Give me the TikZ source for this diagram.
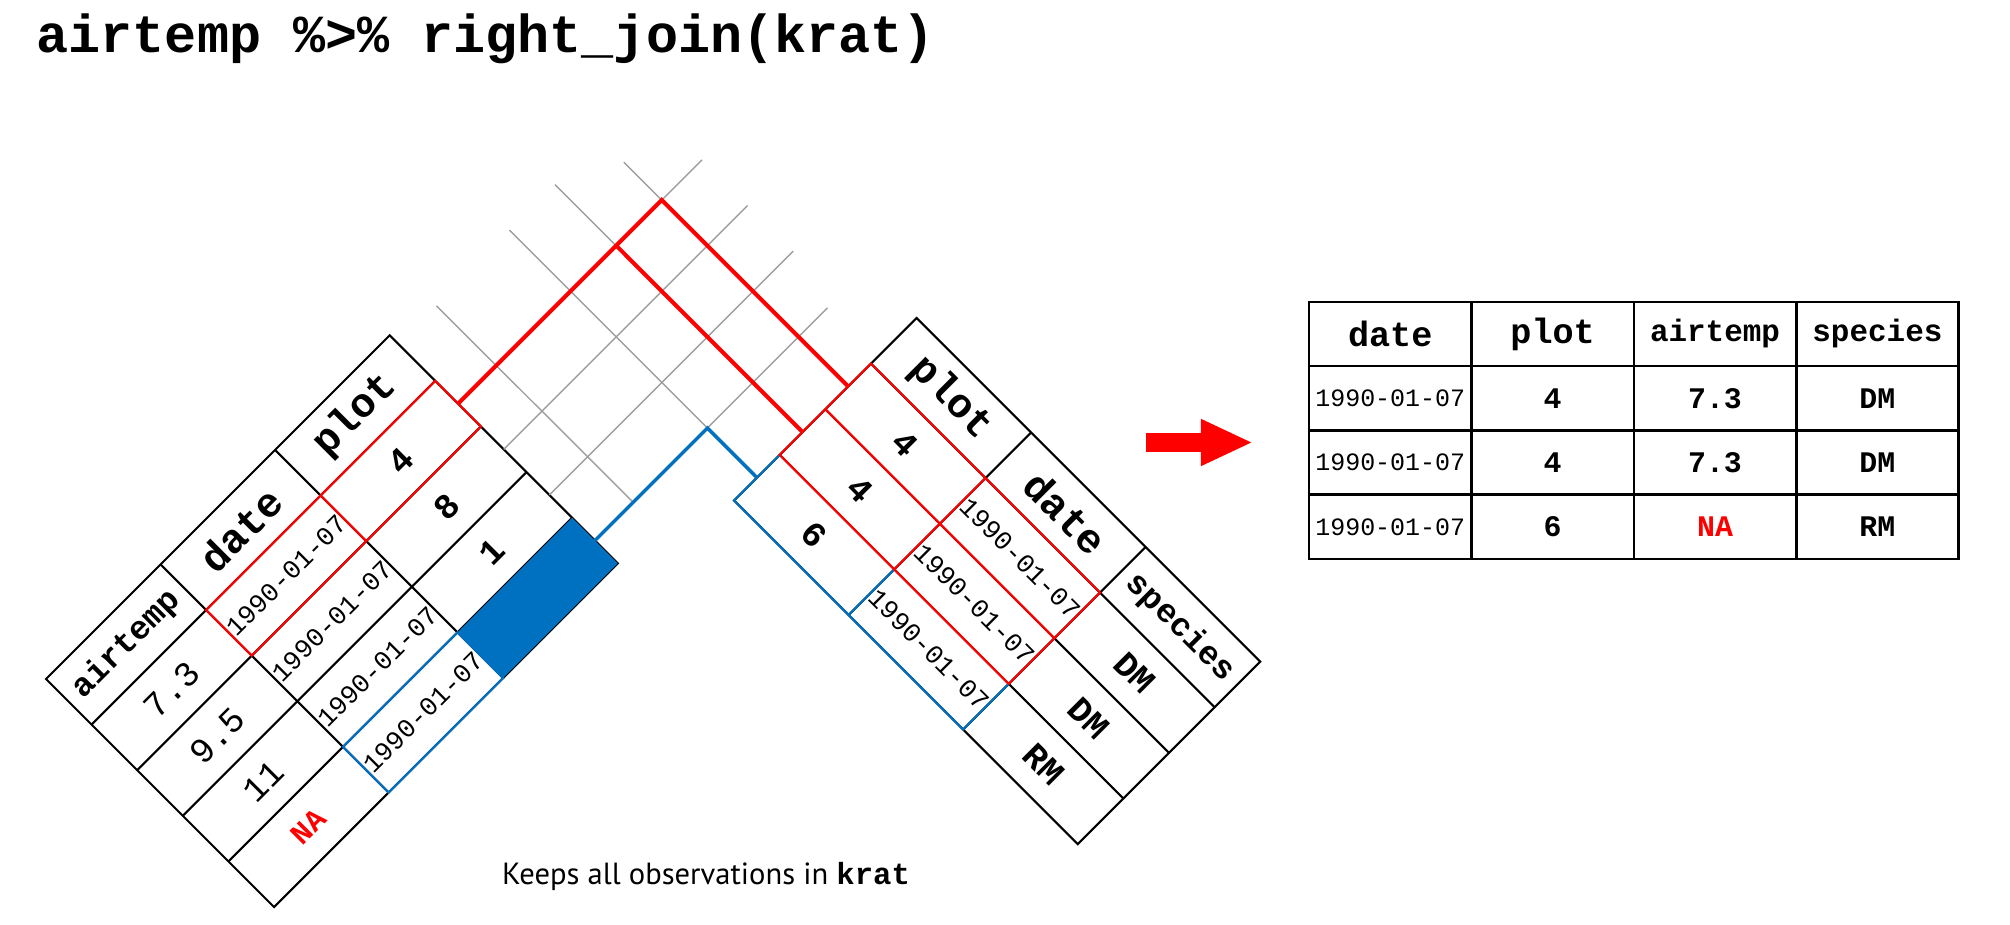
\documentclass[tikz,border=0pt]{standalone}
\usepackage{fontspec}
\setmainfont{PT Sans}
\setmonofont{Liberation Mono}
\usepackage{xcolor}
\usepackage{tikz}
\usetikzlibrary{arrows.meta,positioning}

\definecolor{keyred}{RGB}{255,0,0}
\definecolor{keyblue}{RGB}{0,112,192}
\definecolor{gridgray}{RGB}{158,158,158}

\tikzset{
  tb_frame/.style={draw=black, line width=0.6pt},
  tb_key/.style={draw=keyred, line width=0.6pt},
  tb_new/.style={draw=keyblue, line width=0.6pt},
  jn_grid/.style={draw=gridgray, line width=0.4pt},
  jn_red/.style={draw=keyred, line width=1.15pt},
  jn_blue/.style={draw=keyblue, line width=1.0pt},
  tb_head/.style={transform shape, inner sep=0pt, font=\ttfamily\bfseries\fontsize{11.7}{14}\selectfont},
  tb_hsm/.style={transform shape, inner sep=0pt, font=\ttfamily\bfseries\fontsize{9.4}{11}\selectfont},
  tb_date/.style={transform shape, inner sep=0pt, font=\ttfamily\fontsize{7.5}{9}\selectfont},
  tb_val/.style={transform shape, inner sep=0pt, font=\ttfamily\fontsize{10}{12}\selectfont},
  tb_valb/.style={tb_val, font=\ttfamily\bfseries\fontsize{10}{12}\selectfont},
  tb_na/.style={tb_val, text=keyred, font=\ttfamily\bfseries\fontsize{8.5}{10}\selectfont},
  out_cell/.style={draw, line width=0.75pt, outer sep=0pt, inner sep=0pt,
    minimum width=1.623cm, minimum height=0.6425cm,
    font=\ttfamily\bfseries\fontsize{8.5}{10}\selectfont},
  out_head/.style={out_cell, font=\ttfamily\bfseries\fontsize{10}{12}\selectfont},
  out_hsm/.style={out_cell, font=\ttfamily\bfseries\fontsize{8.8}{10}\selectfont},
  out_date/.style={out_cell, font=\ttfamily\fontsize{7.1}{9}\selectfont},
  res_arr/.style={draw=keyred, line width=0.19cm, -{Triangle[length=0.52cm, width=0.43cm]}},
}

\begin{document}
\begin{tikzpicture}[x=0.01cm, y=0.01cm]
\useasboundingbox (0,0) rectangle (2010,924);

% Title
\node[anchor=base west, inner sep=0pt, font=\ttfamily\bfseries\fontsize{15.2}{18}\selectfont]
  (title) at (36,871) {airtemp \%>\% right\_join(krat)};

% airtemp table, turned up to the right
\begin{scope}[shift={(46,245)}, rotate=45]
  \draw[tb_frame] (0,0) rectangle (486,-322.5);
  \foreach \y in {-64.5,-129,-193.5,-258} \draw[tb_frame] (0,\y) -- (486,\y);
  \foreach \x in {162,324} \draw[tb_frame] (\x,0) -- (\x,-322.5);
  \draw[tb_key] (162,-64.5) rectangle (486,-129);
  \draw[tb_key] (324,-64.5) -- (324,-129);
  \draw[tb_new] (162,-258) rectangle (324,-322.5);
  \fill[keyblue] (324,-258) rectangle (486,-322.5);

  \node[tb_hsm]  (ah1) at (81,-32.25)  {airtemp};
  \node[tb_head] (ah2) at (243,-32.25) {date};
  \node[tb_head] (ah3) at (405,-32.25) {plot};
  \node[tb_val]  (a11) at (81,-96.75)  {7.3};
  \node[tb_date] (a12) at (243,-96.75) {1990-01-07};
  \node[tb_valb] (a13) at (405,-96.75) {4};
  \node[tb_val]  (a21) at (81,-161.25)  {9.5};
  \node[tb_date] (a22) at (243,-161.25) {1990-01-07};
  \node[tb_valb] (a23) at (405,-161.25) {8};
  \node[tb_val]  (a31) at (81,-225.75)  {11};
  \node[tb_date] (a32) at (243,-225.75) {1990-01-07};
  \node[tb_valb] (a33) at (405,-225.75) {1};
  \node[tb_na]   (a41) at (81,-290.25)  {NA};
  \node[tb_date] (a42) at (243,-290.25) {1990-01-07};

  % row ends on the plot side
  \coordinate (lr1) at (486,-96.75);
  \coordinate (lr2) at (486,-161.25);
  \coordinate (lr3) at (486,-225.75);
  \coordinate (lr4) at (486,-290.25);
  \coordinate (le1) at (831,-96.75);
  \coordinate (le2) at (831,-161.25);
  \coordinate (le3) at (831,-225.75);
  \coordinate (le4) at (815,-290.25);
\end{scope}

% krat table, turned down to the right
\begin{scope}[shift={(916.5,606)}, rotate=-45]
  \draw[tb_frame] (0,0) rectangle (486,-258);
  \foreach \y in {-64.5,-129,-193.5} \draw[tb_frame] (0,\y) -- (486,\y);
  \foreach \x in {162,324} \draw[tb_frame] (\x,0) -- (\x,-258);
  \draw[tb_new] (0,-193.5) -- (0,-258) -- (324,-258) -- (324,-193.5);
  \draw[tb_new] (162,-193.5) -- (162,-258);
  \draw[tb_key] (0,-64.5) rectangle (324,-193.5);
  \draw[tb_key] (0,-129) -- (324,-129);
  \draw[tb_key] (162,-64.5) -- (162,-193.5);

  \node[tb_head] (kh1) at (81,-32.25)  {plot};
  \node[tb_head] (kh2) at (243,-32.25) {date};
  \node[tb_hsm]  (kh3) at (405,-32.25) {species};
  \node[tb_valb] (k11) at (81,-96.75)  {4};
  \node[tb_date] (k12) at (243,-96.75) {1990-01-07};
  \node[tb_valb] (k13) at (405,-96.75) {DM};
  \node[tb_valb] (k21) at (81,-161.25)  {4};
  \node[tb_date] (k22) at (243,-161.25) {1990-01-07};
  \node[tb_valb] (k23) at (405,-161.25) {DM};
  \node[tb_valb] (k31) at (81,-225.75)  {6};
  \node[tb_date] (k32) at (243,-225.75) {1990-01-07};
  \node[tb_valb] (k33) at (405,-225.75) {RM};

  % row ends on the plot side
  \coordinate (rr1) at (0,-96.75);
  \coordinate (rr2) at (0,-161.25);
  \coordinate (rr3) at (0,-225.75);
  \coordinate (re1) at (-317,-96.75);
  \coordinate (re2) at (-350,-161.25);
  \coordinate (re3) at (-350,-225.75);
  \coordinate (re4) at (-348,-330.8);
  \coordinate (rx4) at (0,-330.8);
\end{scope}

% Join grid
\coordinate (pk1) at (intersection of lr1--le1 and rr1--re1);
\coordinate (pk2) at (intersection of lr1--le1 and rr2--re2);
\coordinate (pk3) at (intersection of lr4--le4 and rr3--re3);
\coordinate (pk4) at (intersection of lr4--le4 and re4--rx4);
\foreach \i in {1,...,4} \draw[jn_grid] (lr\i) -- (le\i);
\foreach \i in {1,2,3} \draw[jn_grid] (re\i) -- (rr\i);
\draw[jn_grid] (re4) -- (pk4);

% Matches
\draw[jn_red]  (lr1) -- (pk1) -- (rr1);
\draw[jn_red]  (pk2) -- (rr2);
\draw[jn_blue] (lr4) -- (pk3) -- (rr3);

% Result
\coordinate (arrS) at (1146,481.5);
\coordinate (arrE) at (1253,481.5);
\draw[res_arr] (arrS) -- (arrE);

\node[out_head] (o11) at (1390.2,590) {date};
\node[out_head, right=0pt of o11] (o12) {plot};
\node[out_hsm,  right=0pt of o12] (o13) {airtemp};
\node[out_hsm,  right=0pt of o13] (o14) {species};
\node[out_date, below=0pt of o11] (o21) {1990-01-07};
\node[out_cell, right=0pt of o21] (o22) {4};
\node[out_cell, right=0pt of o22] (o23) {7.3};
\node[out_cell, right=0pt of o23] (o24) {DM};
\node[out_date, below=0pt of o21] (o31) {1990-01-07};
\node[out_cell, right=0pt of o31] (o32) {4};
\node[out_cell, right=0pt of o32] (o33) {7.3};
\node[out_cell, right=0pt of o33] (o34) {DM};
\node[out_date, below=0pt of o31] (o41) {1990-01-07};
\node[out_cell, right=0pt of o41] (o42) {6};
\node[out_cell, right=0pt of o42, text=keyred] (o43) {NA};
\node[out_cell, right=0pt of o43] (o44) {RM};

% Caption
\node[anchor=base, inner sep=0pt, font=\fontsize{8.7}{10}\selectfont]
  (note) at (706,40) {Keeps all observations in \texttt{\bfseries krat}};

\end{tikzpicture}
\end{document}
